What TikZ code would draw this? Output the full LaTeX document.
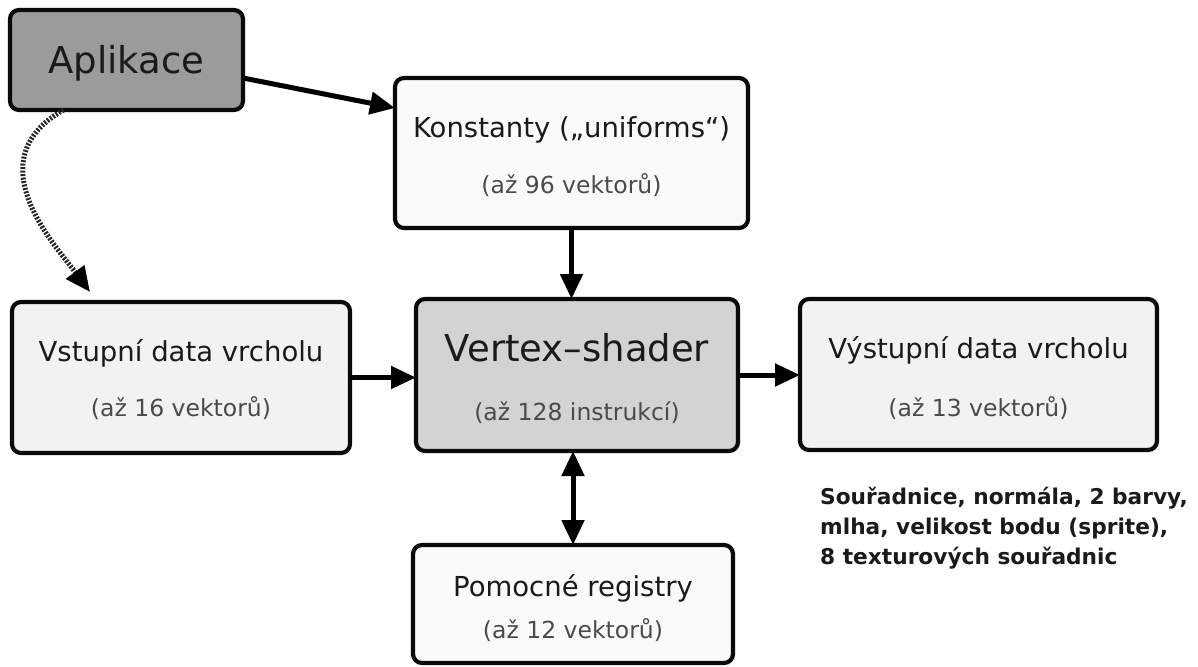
\documentclass[tikz,border=0pt]{standalone}
\usepackage{fontspec}
\setmainfont{DejaVu Sans}
\usetikzlibrary{arrows.meta}

\definecolor{boxline}{HTML}{0A0A0A}
\definecolor{appfill}{HTML}{9B9B9B}
\definecolor{vsfill}{HTML}{D3D3D3}
\definecolor{lightfill}{HTML}{F2F2F2}
\definecolor{paler}{HTML}{FAFAFA}
\definecolor{titlecol}{HTML}{1A1A1A}
\definecolor{subcol}{HTML}{4A4A4A}
\definecolor{dotcol}{HTML}{262626}

\tikzset{
  block/.style={draw=boxline, line width=4.2pt, rounded corners=9pt,
    inner sep=0pt, outer sep=0pt},
  bigtitle/.style={text=titlecol, inner sep=0pt,
    font=\fontsize{37}{44}\selectfont},
  title/.style={text=titlecol, inner sep=0pt,
    font=\fontsize{27.5}{33}\selectfont},
  subtitle/.style={text=subcol, inner sep=0pt,
    font=\fontsize{23.5}{28}\selectfont},
  notetext/.style={text=titlecol, inner sep=0pt, anchor=base west,
    font=\bfseries\fontsize{21.7}{30}\selectfont},
  flow/.style={line width=5pt, draw=black,
    -{Triangle[length=25pt,width=22pt]}},
  twoway/.style={line width=5pt, draw=black,
    {Triangle[length=25pt,width=22pt]}-{Triangle[length=25pt,width=22pt]}},
  dotflow/.style={line width=5pt, draw=dotcol, dash pattern=on 2pt off 1.5pt,
    -{Triangle[length=25pt,width=22pt,color=black,fill=black]}}
}

\begin{document}
\begin{tikzpicture}[x=1pt, y=-1pt]
  \useasboundingbox (0,0) rectangle (1198,666);

  % blocks
  \node[block, fill=appfill, minimum width=233pt, minimum height=100pt] (apl) at (126.5,60) {};
  \node[block, fill=paler, minimum width=353pt, minimum height=150pt] (kon) at (571.5,153) {};
  \node[block, fill=lightfill, minimum width=338pt, minimum height=151pt] (vst) at (181,377.5) {};
  \node[block, fill=vsfill, minimum width=322pt, minimum height=152pt] (vtx) at (577,375) {};
  \node[block, fill=lightfill, minimum width=357pt, minimum height=151pt] (vys) at (978.5,374.5) {};
  \node[block, fill=paler, minimum width=320pt, minimum height=118pt] (pom) at (573,604) {};

  % block captions
  \node[bigtitle] (aplT) at (126.5,63) {Aplikace};

  \node[title] (konT) at (571.5,130) {Konstanty („uniforms“)};
  \node[subtitle] (konS) at (571.5,185) {(až 96 vektorů)};

  \node[title] (vstT) at (181,353) {Vstupní data vrcholu};
  \node[subtitle] (vstS) at (181,408) {(až 16 vektorů)};

  \node[bigtitle] (vtxT) at (577,348) {Vertex–shader};
  \node[subtitle] (vtxS) at (577,413) {(až 128 instrukcí)};

  \node[title] (vysT) at (978.5,350) {Výstupní data vrcholu};
  \node[subtitle] (vysS) at (978.5,408) {(až 13 vektorů)};

  \node[title] (pomT) at (573,588) {Pomocné registry};
  \node[subtitle] (pomS) at (573,630) {(až 12 vektorů)};

  % note below the output block
  \node[notetext] (note1) at (820,504) {Souřadnice, normála, 2 barvy,};
  \node[notetext] (note2) at (820,534) {mlha, velikost bodu (sprite),};
  \node[notetext] (note3) at (820,564) {8 texturových souřadnic};

  % connectors
  \draw[flow] ([yshift=-18pt]apl.east) -- ([yshift=45pt]kon.west);
  \draw[flow] (kon.south) -- (kon.south |- vtx.north);
  \draw[flow] (vst.east) -- (vst.east -| vtx.west);
  \draw[flow] (vtx.east) -- (vtx.east -| vys.west);
  \draw[twoway] (pom.north |- vtx.south) -- (pom.north);

  \coordinate (vstIn) at ([xshift=-91pt, yshift=10pt]vst.north);
  \draw[dotflow] ([xshift=-63pt]apl.south) .. controls (-25,160) and (55,245) .. (vstIn);
\end{tikzpicture}
\end{document}
